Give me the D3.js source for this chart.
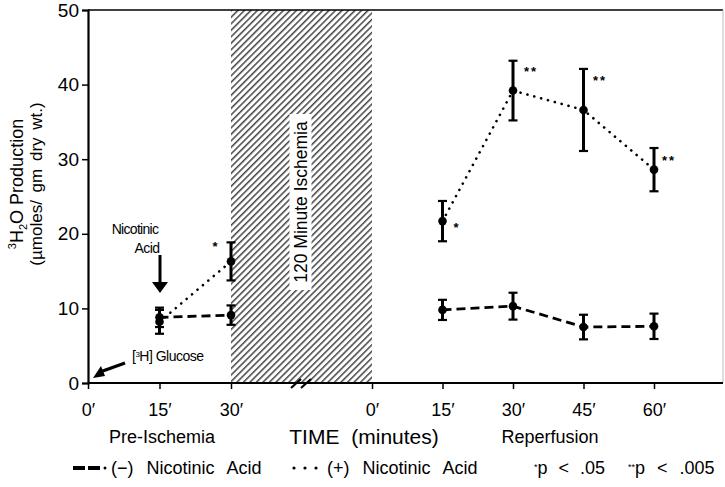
<!DOCTYPE html>
<html><head><meta charset="utf-8">
<script src="https://cdn.jsdelivr.net/npm/d3@7/dist/d3.min.js"></script>
<style>
body{margin:0;background:#fff;}
svg text{font-family:"Liberation Sans",Arial,Helvetica,sans-serif;fill:#000;}
</style></head>
<body><svg id="c" width="725" height="487"></svg>
<script>
// ---- data ----
const preTimes = [15, 30];
const repTimes = [15, 30, 45, 60];
const preTickVals = [0, 15, 30];
const repTickVals = [0, 15, 30, 45, 60];
const yTickVals = [0, 10, 20, 30, 40, 50];
const negPre = [8.8, 9.1];
const negPreErr = [1.3, 1.3];
const posPre = [8.2, 16.3];
const posPreErr = [1.6, 2.55];
const negRep = [9.8, 10.3, 7.5, 7.6];
const negRepErr = [1.35, 1.8, 1.65, 1.7];
const posRep = [21.7, 39.2, 36.6, 28.6];
const posRepErr = [2.7, 4.0, 5.5, 2.9];
const posPreSig = ["*", ""];
const posRepSig = ["*", "**", "**", "**"];

const svg = d3.select("#c");
const L = 88, R = 723, T = 10, B = 383;
const y = d3.scaleLinear().domain([0, 50]).range([B, T]);
const xPre = d3.scaleLinear().domain([0, 30]).range([88, 231]);
const xRep = d3.scaleLinear().domain([0, 60]).range([372, 654]);

// hatch pattern
const defs = svg.append("defs");
const pat = defs.append("pattern").attr("id", "hatch").attr("patternUnits", "userSpaceOnUse")
  .attr("width", 4.6).attr("height", 4.6).attr("patternTransform", "rotate(45)");
pat.append("line").attr("x1", 0.8).attr("y1", -1).attr("x2", 0.8).attr("y2", 6)
  .attr("stroke", "#000").attr("stroke-width", 1.1);

svg.append("rect").attr("x", xPre(30)).attr("y", T).attr("width", xRep(0) - xPre(30)).attr("height", B - T)
  .attr("fill", "url(#hatch)");

// ischemia label
const isc = svg.append("g").attr("transform", `translate(${(xPre(30) + xRep(0)) / 2 - 1},202) rotate(-90)`);
isc.append("rect").attr("x", -88).attr("y", -11).attr("width", 176).attr("height", 22).attr("fill", "#fff");
isc.append("text").attr("text-anchor", "middle").attr("dy", "0.36em").style("font-size", "17.5px")
  .text("120 Minute Ischemia");

// frame
svg.append("line").attr("x1", L).attr("x2", R).attr("y1", T).attr("y2", T).attr("stroke", "#000").attr("stroke-width", 1.3);
svg.append("line").attr("x1", R).attr("x2", R).attr("y1", T).attr("y2", B).attr("stroke", "#bbb").attr("stroke-width", 1);

// y axis
const yAxis = svg.append("g").attr("transform", `translate(${L},0)`)
  .call(d3.axisLeft(y).tickValues(yTickVals).tickSize(6).tickPadding(3));
yAxis.select(".domain").attr("stroke-width", 2.2);
yAxis.selectAll(".tick line").attr("stroke-width", 1.5);
yAxis.selectAll("text").style("font-size", "19px");

// x axis line with break
svg.append("line").attr("x1", L).attr("x2", R).attr("y1", B).attr("y2", B).attr("stroke", "#000").attr("stroke-width", 2);
[296, 306].forEach(cx => {
  svg.append("line").attr("x1", cx - 5).attr("y1", B + 5).attr("x2", cx + 5).attr("y2", B - 4)
    .attr("stroke", "#000").attr("stroke-width", 2.2);
});
const fmtMin = d => d + "\u2032";
const xa1 = svg.append("g").attr("transform", `translate(0,${B})`)
  .call(d3.axisBottom(xPre).tickValues(preTickVals).tickFormat(fmtMin).tickSize(6).tickPadding(14));
const xa2 = svg.append("g").attr("transform", `translate(0,${B})`)
  .call(d3.axisBottom(xRep).tickValues(repTickVals).tickFormat(fmtMin).tickSize(6).tickPadding(14));
[xa1, xa2].forEach(a => {
  a.select(".domain").remove();
  a.selectAll(".tick line").attr("stroke-width", 1.5);
  a.selectAll("text").style("font-size", "18px");
});

// axis titles
svg.append("text").attr("x", 162).attr("y", 443).attr("text-anchor", "middle").style("font-size", "18px").text("Pre-Ischemia");
svg.append("text").attr("x", 364).attr("y", 444).attr("text-anchor", "middle").style("font-size", "21px")
  .style("word-spacing", "6px").text("TIME (minutes)");
svg.append("text").attr("x", 550).attr("y", 443).attr("text-anchor", "middle").style("font-size", "18px").text("Reperfusion");

const yt = svg.append("g").attr("transform", "translate(0,184) rotate(-90)");
const t1 = yt.append("text").attr("x", 0).attr("y", 23).attr("text-anchor", "middle").style("font-size", "18px");
t1.append("tspan").style("font-size", "11px").attr("dy", "-7").text("3");
t1.append("tspan").attr("dy", "7").text("H");
t1.append("tspan").style("font-size", "11px").attr("dy", "4").text("2");
t1.append("tspan").attr("dy", "-4").text("O Production");
yt.append("text").attr("x", 0).attr("y", 42).attr("text-anchor", "middle").style("font-size", "17px")
  .style("word-spacing", "3px").text("(\u00b5moles/ gm dry wt.)");

// series drawing
function drawSeries(xs, times, vals, errs, dash, lineWidth, cap) {
  const pts = times.map((t, i) => ({ x: xs(t), v: vals[i], e: errs[i] }));
  const line = d3.line().x(d => d.x).y(d => y(d.v));
  svg.append("path").attr("d", line(pts)).attr("fill", "none").attr("stroke", "#000")
    .attr("stroke-width", lineWidth).attr("stroke-dasharray", dash).attr("stroke-linecap", cap);
  const g = svg.append("g");
  pts.forEach(d => {
    g.append("line").attr("x1", d.x).attr("x2", d.x).attr("y1", y(d.v + d.e)).attr("y2", y(d.v - d.e))
      .attr("stroke", "#000").attr("stroke-width", 3);
    [d.v + d.e, d.v - d.e].forEach(v => {
      g.append("line").attr("x1", d.x - 4.5).attr("x2", d.x + 4.5).attr("y1", y(v)).attr("y2", y(v))
        .attr("stroke", "#000").attr("stroke-width", 2.2);
    });
    g.append("circle").attr("cx", d.x).attr("cy", y(d.v)).attr("r", 4.3).attr("fill", "#000");
  });
}
drawSeries(xPre, preTimes, negPre, negPreErr, "9,5", 2.8, "butt");
drawSeries(xRep, repTimes, negRep, negRepErr, "9,5", 2.8, "butt");
drawSeries(xPre, preTimes, posPre, posPreErr, "0.1,7", 2.6, "round");
drawSeries(xRep, repTimes, posRep, posRepErr, "0.1,7", 2.6, "round");

// significance marks
function sig(xpx, ypx, s) {
  svg.append("text").attr("x", xpx).attr("y", ypx + 6).attr("text-anchor", "middle")
    .style("font-size", "13px").style("letter-spacing", "2px").style("font-weight", "bold").text(s);
}
sig(216, 245, posPreSig[0]);
sig(457, 226, posRepSig[0]);
sig(531, 70, posRepSig[1]);
sig(600, 79, posRepSig[2]);
sig(669, 159, posRepSig[3]);

// annotations
svg.append("text").attr("x", 135).attr("y", 234).attr("text-anchor", "middle").style("font-size", "14px")
  .style("letter-spacing", "-0.7px").text("Nicotinic");
svg.append("text").attr("x", 147).attr("y", 253).attr("text-anchor", "middle").style("font-size", "14px")
  .style("letter-spacing", "-0.6px").text("Acid");
svg.append("line").attr("x1", 160).attr("x2", 160).attr("y1", 255).attr("y2", 283).attr("stroke", "#000").attr("stroke-width", 3);
svg.append("path").attr("d", "M152,282 L168,282 L160,293 Z").attr("fill", "#000");

const gl = svg.append("text").attr("x", 132).attr("y", 361).style("font-size", "14px").style("letter-spacing", "-0.5px");
gl.append("tspan").text("[");
gl.append("tspan").style("font-size", "8px").attr("dy", "-4").text("3");
gl.append("tspan").attr("dy", "4").text("H]  Glucose");
svg.append("line").attr("x1", 125).attr("y1", 363).attr("x2", 100).attr("y2", 372).attr("stroke", "#000").attr("stroke-width", 3.2);
svg.append("path").attr("d", "M93,378 L101,366 L105,376 Z").attr("fill", "#000");

// legend
const ly = 468;
svg.append("line").attr("x1", 73).attr("x2", 101).attr("y1", ly).attr("y2", ly).attr("stroke", "#000")
  .attr("stroke-width", 4).attr("stroke-dasharray", "12,3");
svg.append("circle").attr("cx", 105).attr("cy", ly).attr("r", 1.5).attr("fill", "#000");
svg.append("text").attr("x", 111).attr("y", ly + 6).style("font-size", "18px").style("word-spacing", "8px").text("(\u2212) Nicotinic Acid");
[294, 305, 316].forEach(cx => svg.append("circle").attr("cx", cx).attr("cy", ly).attr("r", 1.6).attr("fill", "#000"));
svg.append("text").attr("x", 327).attr("y", ly + 6).style("font-size", "18px").style("word-spacing", "8px").text("(+) Nicotinic Acid");
const p1 = svg.append("text").attr("x", 534).attr("y", ly + 6).style("font-size", "18px").style("word-spacing", "6px");
p1.append("tspan").style("font-size", "9px").attr("dy", "-4").text("*");
p1.append("tspan").attr("dy", "4").text("p < .05");
const p2 = svg.append("text").attr("x", 628).attr("y", ly + 6).style("font-size", "18px").style("word-spacing", "7px");
p2.append("tspan").style("font-size", "9px").attr("dy", "-4").text("**");
p2.append("tspan").attr("dy", "4").text("p < .005");
</script></body></html>
